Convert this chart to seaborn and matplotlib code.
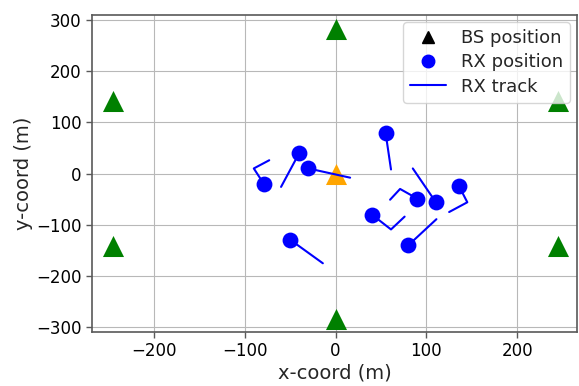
import numpy as np
import pandas as pd
import seaborn as sns
import matplotlib.pyplot as plt
from matplotlib.lines import Line2D

# base stations (hexagon around the serving one at the origin)
bs_x = [0, 245, 245, 0, -245, -245]
bs_y = [283, 141.5, -141.5, -283, -141.5, 141.5]
serving_x = [0]
serving_y = [0]

# receiver positions
rx_x = [-79, -40, -30, 55, 90, 110, 136, 40, 80, -50]
rx_y = [-20, 40, 10, 80, -49, -55, -25, -80, -140, -129]

# receiver tracks (start at the rx position)
track_x = [[-79, -90, -73], [-40, -60], [-30, 16], [55, 61], [90, 71, 60],
           [110, 85], [136, 145, 125], [40, 61, 76], [80, 111], [-50, -14]]
track_y = [[-20, 10, 26], [40, -26], [10, -8], [80, 8], [-49, -30, -51],
           [-55, 10], [-25, -56, -75], [-80, -109, -84], [-140, -89], [-129, -175]]

tracks = pd.DataFrame({
    'x': sum(track_x, []),
    'y': sum(track_y, []),
    'rx': sum([[i] * len(t) for i, t in enumerate(track_x)], []),
})

sns.set_style('whitegrid', {'axes.edgecolor': '.35', 'grid.color': '.72',
                            'xtick.bottom': True, 'ytick.left': True})
plt.rcParams['font.family'] = ['DejaVu Sans']

fig = plt.figure(figsize=(5.79, 3.86), dpi=100)
ax = fig.add_axes([0.159, 0.14, 0.838, 0.822])

sns.scatterplot(x=bs_x, y=bs_y, marker='^', s=230, color='green', linewidth=0, ax=ax, zorder=3)
sns.scatterplot(x=serving_x, y=serving_y, marker='^', s=230, color='orange', linewidth=0, ax=ax, zorder=3)
sns.lineplot(data=tracks, x='x', y='y', units='rx', estimator=None, sort=False,
             color='blue', linewidth=1.5, ax=ax, zorder=4)
sns.scatterplot(x=rx_x, y=rx_y, marker='o', s=130, color='blue', linewidth=0, ax=ax, zorder=5)

ax.set_xlim(-268, 266)
ax.set_ylim(-309, 310)
ax.set_xticks([-200, -100, 0, 100, 200])
ax.set_yticks([-300, -200, -100, 0, 100, 200, 300])
ax.tick_params(labelsize=12, labelcolor='black', color='.35', length=4, width=1)
ax.set_xlabel('x-coord (m)', fontsize=14, labelpad=2)
ax.set_ylabel('y-coord (m)', fontsize=14, labelpad=2)
for s in ax.spines.values():
    s.set_linewidth(1.2)

handles = [Line2D([], [], marker='^', color='black', linestyle='', markersize=8),
           Line2D([], [], marker='o', color='blue', linestyle='', markersize=9),
           Line2D([], [], color='blue', linewidth=1.5)]
leg = ax.legend(handles, ['BS position', 'RX position', 'RX track'], loc='upper right',
                fontsize=13, frameon=True, framealpha=0.8, fancybox=True,
                borderpad=0.4, handletextpad=0.8, labelspacing=0.35, borderaxespad=0.4)
leg.set_zorder(10)

fig.savefig('out.png', dpi=100)
